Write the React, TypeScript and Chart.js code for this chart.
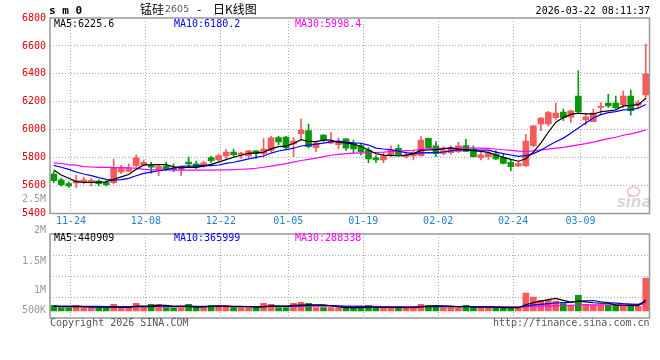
import React, { useEffect, useRef } from 'react';
import { Chart, registerables } from 'chart.js';

Chart.register(...registerables);

// ---------------- data ----------------
const dates = ['11-20','11-21','11-24','11-25','11-26','11-27','11-28','12-01','12-02','12-03','12-04','12-05',
  '12-08','12-09','12-10','12-11','12-12','12-15','12-16','12-17','12-18','12-19','12-22','12-23','12-24','12-25','12-26',
  '12-29','12-30','12-31','01-02','01-05','01-06','01-07','01-08','01-09','01-12','01-13','01-14','01-15','01-16',
  '01-19','01-20','01-21','01-22','01-23','01-26','01-27','01-28','01-29','01-30','02-02','02-03','02-04','02-05','02-06',
  '02-09','02-10','02-11','02-12','02-13','02-24','02-25','02-26','02-27','03-02','03-03','03-04','03-05','03-06',
  '03-09','03-10','03-11','03-12','03-13','03-16','03-17','03-18','03-19','03-20'];

const opens = [5683,5642,5614,5619,5628,5630,5633,5621,5621,5697,
  5704,5743,5750,5743,5721,5738,5726,5716,5769,5755,
  5740,5800,5783,5812,5840,5819,5812,5848,5829,5852,
  5943,5948,5898,5972,5993,5871,5962,5903,5893,5934,
  5903,5886,5855,5798,5783,5814,5867,5807,5812,5814,
  5938,5884,5831,5836,5843,5886,5860,5800,5807,5826,
  5802,5766,5740,5743,5886,6041,6041,6086,6127,6089,
  6241,6070,6058,6160,6191,6191,6179,6241,6175,6249];
const highs = [5700,5654,5626,5673,5661,5652,5642,5635,5790,5745,
  5755,5819,5783,5767,5747,5769,5755,5740,5805,5776,
  5776,5812,5826,5860,5862,5840,5852,5850,5936,5953,
  5953,5953,5943,6077,6041,5910,5965,5979,5941,5936,
  5926,5903,5872,5814,5836,5884,5891,5836,5855,5950,
  5940,5915,5879,5884,5910,5931,5884,5843,5843,5850,
  5831,5783,5771,5967,6030,6089,6132,6191,6148,6141,
  6421,6110,6146,6194,6253,6241,6277,6284,6210,6614];
const lows = [5621,5595,5585,5585,5611,5597,5597,5597,5611,5685,
  5697,5733,5740,5688,5671,5707,5700,5671,5735,5721,
  5731,5764,5774,5795,5800,5795,5800,5795,5805,5843,
  5891,5860,5807,5926,5867,5843,5914,5900,5862,5852,
  5836,5819,5764,5764,5764,5807,5815,5800,5783,5810,
  5868,5807,5819,5824,5836,5843,5803,5783,5788,5786,
  5755,5707,5735,5735,5879,5993,6027,6074,6065,6053,
  6125,6034,6055,6108,6160,6141,6158,6105,6158,6218];
const closes = [5635,5607,5597,5635,5642,5635,5614,5607,5728,5726,
  5721,5798,5767,5731,5736,5719,5716,5731,5755,5733,
  5762,5778,5814,5840,5821,5833,5848,5829,5862,5941,
  5912,5871,5919,5998,5879,5905,5929,5917,5912,5867,
  5862,5843,5790,5783,5812,5855,5819,5819,5838,5926,
  5872,5831,5850,5867,5884,5845,5807,5821,5831,5790,
  5759,5735,5757,5919,6027,6084,6122,6120,6086,6136,
  6129,6093,6120,6165,6170,6158,6241,6136,6194,6399];

const ma5 = [5712,5676,5652,5628,5623.2,5623.2,5624.6,5626.6,5645.2,5662,
  5679.2,5716,5748,5748.6,5750.6,5750.2,5733.8,5726.6,5731.4,5730.8,
  5739.4,5751.8,5768.4,5785.4,5803,5817.2,5831.2,5834.2,5838.6,5862.6,
  5878.4,5883,5901,5928.2,5915.8,5914.4,5926,5925.6,5908.4,5906,
  5897.4,5880.2,5854.8,5829,5818,5816.6,5811.8,5817.6,5828.6,5851.4,
  5854.8,5857.2,5863.4,5869.2,5860.8,5855.4,5850.6,5844.8,5837.6,5818.8,
  5801.6,5787.2,5774.4,5792,5839.4,5904.4,5981.8,6054.4,6087.8,6109.6,
  6118.6,6112.8,6112.8,6128.6,6135.4,6141.2,6170.8,6174,6179.8,6225.6];
const ma10 = [5745,5731,5716,5697,5683,5671,5657,5645,5638,5642.6,
  5651.2,5670.3,5687.3,5696.9,5706.3,5714.7,5724.9,5737.3,5740,5740.7,
  5744.8,5742.8,5747.5,5758.4,5766.9,5778.3,5791.5,5801.3,5812,5832.8,
  5847.8,5857.1,5867.6,5883.4,5889.2,5896.4,5904.5,5913.3,5918.3,5910.9,
  5905.9,5903.1,5890.2,5868.7,5862,5857,5846,5836.2,5828.8,5834.7,
  5835.7,5834.5,5840.5,5848.9,5856.1,5855.1,5853.9,5854.1,5853.4,5839.8,
  5828.5,5818.9,5809.6,5814.8,5829.1,5853,5884.5,5914.4,5939.9,5974.5,
  6011.5,6047.3,6083.6,6108.2,6122.5,6129.9,6141.8,6143.4,6154.2,6180.2];
const ma30 = [5762,5758,5750,5746,5736,5733,5731,5730,5729,5728,
  5727,5725,5716,5713,5712,5712,5711,5711,5711,5711,
  5711,5711,5712,5712,5714,5717,5719,5724,5731,5738.7,
  5747.9,5756.7,5767.5,5779.6,5787.5,5796.5,5807,5817.3,5823.4,5828.1,
  5832.8,5834.3,5835.1,5836.8,5839.4,5843.9,5847.3,5850.3,5853,5859.5,
  5863.1,5864.9,5866.1,5867,5869.1,5869.5,5868.1,5867.9,5866.8,5861.8,
  5856.7,5852.2,5846.8,5844.1,5849.1,5855,5861.5,5868.2,5874,5883,
  5891.9,5900.2,5911.2,5924,5935.9,5946,5960.1,5970.6,5983.2,5998.4];

// volume values in thousands (K)
const volumesK = [228,132,130,228,135,128,132,130,268,135,
  132,308,135,268,268,132,130,135,268,132,
  135,228,228,228,132,135,130,132,308,268,
  132,135,308,348,308,132,135,132,130,132,
  135,130,228,132,135,130,132,135,188,268,
  228,228,132,135,130,228,132,135,130,132,
  135,132,130,720,560,428,428,400,292,228,
  628,268,228,228,228,228,188,228,188,1320];
const volMa5K = [185,180,170,175,171,151,151,151,159,159,
  159,195,196,196,222,222,187,187,187,159,
  160,180,198,190,190,190,171,151,167,195,
  194,195,230,238,246,246,246,211,167,132,
  133,132,151,151,152,151,151,133,144,171,
  190,209,209,198,171,171,151,152,151,151,
  133,133,132,250,335,394,454,507,422,355,
  395,363,329,316,316,236,220,220,212,440.909];
const volMa10K = [200,198,195,192,190,186,182,178,172,165,
  155,173,174,178,191,191,191,192,192,191,
  191,184,193,189,175,175,176,175,179,193,
  192,183,191,203,221,220,221,221,203,189,
  190,189,181,159,142,142,142,142,148,162,
  171,180,171,171,171,181,180,181,175,161,
  152,142,142,201,243,264,294,320,336,345,
  395,409,418,369,336,316,292,275,264,365.999];
const volMa30K = [178,177,176,178,177,176,175,175,177,176,
  176,178,177,178,180,179,178,178,180,179,
  179,180,181,182,181,181,180,180,182,182.6,
  179.4,179.5,185.4,189.4,195.2,195.3,195.4,195.5,190.9,190.8,
  190.9,185,188.1,183.5,179.1,179,179.1,179.1,176.4,181,
  184.1,184.1,180.9,177.8,177.7,180.8,180.9,181,175,170.5,
  170.6,170.5,164.6,177,185.4,195.2,205,213.9,219.3,222.5,
  239,243.6,243.6,246.8,249.9,253.1,255,258.1,258.1,288.338];

const xTickLabels = ['11-24','12-08','12-22','01-05','01-19','02-02','02-24','03-09'];
const priceTicks = [5400,5500,5600,5800,6000,6200,6400,6600,6800];
const overlayTickValue = 5500;
const overlayTickLabel = '2.5M';
const volAxisLabels = ['2M','1.5M','1M','500K'];

const symbolCode = 's m 0';
const titleName = '锰硅';
const titleCode = '2605';
const titleSuffix = '日K线图';
const timestamp = '2026-03-22 08:11:37';
const copyrightText = 'Copyright 2026 SINA.COM';
const urlText = 'http://finance.sina.com.cn';

// ---------------- styles ----------------
const MONO = '"DejaVu Sans Mono", "Liberation Mono", monospace';
const CJK = '"Noto Sans CJK SC", "Noto Sans", sans-serif';
const RED = '#f65a5a';
const GREEN = '#0a990a';
const GRID = '#aaaaaa';
const FRAME = '#999999';
const MA_COLORS = ['#000000', '#0000ff', '#ff00ff'];
const K = 1000;

const candleColors = closes.map((c, i) => (c >= opens[i] ? RED : GREEN));
const xy = (arr: number[], mul = 1) => arr.map((v, i) => ({ x: i, y: v * mul }));

const xTickBuilder = (s: any) => {
  s.ticks = xTickLabels.map((l) => ({ value: dates.indexOf(l) + 0.3 }));
};

const lineDs = (label: string, data: any[], color: string) => ({
  type: 'line' as const,
  label,
  data,
  borderColor: color,
  backgroundColor: color,
  borderWidth: 1.2,
  pointRadius: 0,
  tension: 0,
  fill: false,
  order: 0,
});

const innerGrid = (ctx: any) => {
  const v = ctx.tick ? ctx.tick.value : null;
  if (v === null || v <= ctx.scale.min || v >= ctx.scale.max || v === overlayTickValue) return 'rgba(0,0,0,0)';
  return GRID;
};

const mainDecor = {
  id: 'mainDecor',
  beforeDatasetsDraw(chart: any) {
    const { ctx, chartArea: a } = chart;
    ctx.save();
    // faint sina watermark
    ctx.strokeStyle = 'rgba(235,160,160,0.55)';
    ctx.lineWidth = 2;
    ctx.beginPath();
    ctx.ellipse(a.right - 16, a.bottom - 22, 6, 4.5, 0, 0, Math.PI * 2);
    ctx.stroke();
    ctx.fillStyle = 'rgba(200,200,200,0.7)';
    ctx.font = `italic bold 15px "DejaVu Sans", sans-serif`;
    ctx.textAlign = 'right';
    ctx.textBaseline = 'alphabetic';
    ctx.fillText('sina', a.right + 2, a.bottom - 7);
    ctx.restore();
  },
  afterDraw(chart: any) {
    const { ctx, chartArea: a } = chart;
    ctx.save();
    ctx.strokeStyle = FRAME;
    ctx.lineWidth = 1.5;
    ctx.strokeRect(a.left, a.top, a.right - a.left, a.bottom - a.top);

    ctx.textBaseline = 'middle';
    ctx.textAlign = 'left';
    ctx.fillStyle = '#000';
    ctx.font = `bold 11px ${MONO}`;
    ctx.fillText(symbolCode, 49, 11.5);

    ctx.font = `12px ${CJK}`;
    ctx.fillText(titleName, 140, 9.5);
    ctx.fillStyle = '#555';
    ctx.font = `9.5px "DejaVu Sans", sans-serif`;
    ctx.fillText(titleCode, 165, 10);
    ctx.fillStyle = '#000';
    ctx.font = `12px ${CJK}`;
    ctx.fillText('-', 197, 9.5);
    ctx.fillText(titleSuffix, 213, 9.5);

    ctx.textAlign = 'right';
    ctx.font = `10px ${MONO}`;
    ctx.fillText(timestamp, 650, 11);

    ctx.textAlign = 'left';
    const legends = [
      `MA5:${ma5[ma5.length - 1].toFixed(1)}`,
      `MA10:${ma10[ma10.length - 1].toFixed(1)}`,
      `MA30:${ma30[ma30.length - 1].toFixed(1)}`,
    ];
    const lx = [a.left + 4, a.left + 124, a.left + 245];
    legends.forEach((t, i) => {
      ctx.fillStyle = MA_COLORS[i];
      ctx.fillText(t, lx[i], a.top + 6);
    });
    ctx.restore();
  },
};

const volDecor = {
  id: 'volDecor',
  afterDraw(chart: any) {
    const { ctx, chartArea: a } = chart;
    ctx.save();
    ctx.strokeStyle = FRAME;
    ctx.lineWidth = 1.5;
    ctx.strokeRect(a.left, a.top, a.right - a.left, a.bottom - a.top);

    ctx.font = `10px ${MONO}`;
    ctx.textBaseline = 'middle';
    ctx.textAlign = 'right';
    ctx.fillStyle = '#999';
    const ly = [a.top - 3.5, a.top + 27, a.top + 56, a.top + 76.5];
    volAxisLabels.forEach((t, i) => ctx.fillText(t, a.left - 4, ly[i]));

    ctx.textAlign = 'left';
    const last = volumesK.length - 1;
    const legends = [
      `MA5:${Math.round(volMa5K[last] * K)}`,
      `MA10:${Math.round(volMa10K[last] * K)}`,
      `MA30:${Math.round(volMa30K[last] * K)}`,
    ];
    const lx = [a.left + 4, a.left + 124, a.left + 245];
    legends.forEach((t, i) => {
      ctx.fillStyle = MA_COLORS[i];
      ctx.fillText(t, lx[i], a.top + 4.5);
    });

    ctx.fillStyle = '#555';
    ctx.fillText(copyrightText, a.left, a.bottom + 5);
    ctx.textAlign = 'right';
    ctx.fillText(urlText, a.right, a.bottom + 5.5);
    ctx.restore();
  },
};

function mainConfig(): any {
  return {
    type: 'bar',
    data: {
      datasets: [
        lineDs('MA5', xy(ma5), MA_COLORS[0]),
        lineDs('MA10', xy(ma10), MA_COLORS[1]),
        lineDs('MA30', xy(ma30), MA_COLORS[2]),
        {
          type: 'bar',
          label: 'body',
          data: opens.map((o, i) => ({ x: i, y: [o, closes[i]] })),
          backgroundColor: candleColors,
          borderWidth: 0,
          barThickness: 6,
          minBarLength: 1,
          grouped: false,
          order: 1,
        },
        {
          type: 'bar',
          label: 'wick',
          data: lows.map((l, i) => ({ x: i, y: [l, highs[i]] })),
          backgroundColor: candleColors,
          borderWidth: 0,
          barThickness: 1,
          grouped: false,
          order: 2,
        },
      ],
    },
    options: {
      responsive: false,
      animation: false,
      events: [],
      layout: { padding: { top: 18, right: 10.5, bottom: 132.5, left: 0 } },
      plugins: { legend: { display: false }, tooltip: { enabled: false } },
      scales: {
        x: {
          type: 'linear',
          min: -0.5,
          max: dates.length - 0.5,
          offset: false,
          afterBuildTicks: xTickBuilder,
          afterFit: (s: any) => { s.height = 14; },
          ticks: {
            callback: (_v: any, idx: number) => xTickLabels[idx],
            color: '#1e82d2',
            font: { family: MONO, size: 10 },
            padding: 1.5,
            autoSkip: false,
            maxRotation: 0,
            minRotation: 0,
          },
          grid: { color: GRID, lineWidth: 1, drawTicks: false, offset: false },
          border: { display: false, dash: [1, 2] },
        },
        y: {
          type: 'linear',
          min: priceTicks[0],
          max: priceTicks[priceTicks.length - 1],
          afterBuildTicks: (s: any) => { s.ticks = priceTicks.map((v) => ({ value: v })); },
          afterFit: (s: any) => { s.width = 50; },
          ticks: {
            callback: (v: number) => (v === overlayTickValue ? overlayTickLabel : String(v)),
            color: (ctx: any) => (ctx.tick && ctx.tick.value === overlayTickValue ? '#999' : '#e00000'),
            font: { family: MONO, size: 10 },
            padding: 4,
          },
          grid: { color: innerGrid, lineWidth: 1, drawTicks: false },
          border: { display: false, dash: [1, 2] },
        },
      },
    },
    plugins: [mainDecor],
  };
}

function volConfig(): any {
  const VOL_MIN = -280 * K;
  const VOL_MAX = 3080 * K;
  return {
    type: 'bar',
    data: {
      datasets: [
        lineDs('VMA5', xy(volMa5K, K), MA_COLORS[0]),
        lineDs('VMA10', xy(volMa10K, K), MA_COLORS[1]),
        lineDs('VMA30', xy(volMa30K, K), MA_COLORS[2]),
        {
          type: 'bar',
          label: 'volume',
          data: xy(volumesK, K),
          backgroundColor: candleColors,
          borderWidth: 0,
          barThickness: 6,
          grouped: false,
          order: 1,
        },
      ],
    },
    options: {
      responsive: false,
      animation: false,
      events: [],
      layout: { padding: { top: 234, right: 10.5, bottom: 42, left: 0 } },
      plugins: { legend: { display: false }, tooltip: { enabled: false } },
      scales: {
        x: {
          type: 'linear',
          min: -0.5,
          max: dates.length - 0.5,
          offset: false,
          afterBuildTicks: xTickBuilder,
          afterFit: (s: any) => { s.height = 0; },
          ticks: { display: false },
          grid: { color: GRID, lineWidth: 1, drawTicks: false, offset: false },
          border: { display: false, dash: [1, 2] },
        },
        y: {
          type: 'linear',
          min: VOL_MIN,
          max: VOL_MAX,
          afterBuildTicks: (s: any) => {
            const step = (s.max - s.min) / 4;
            s.ticks = [0, 1, 2, 3, 4].map((k) => ({ value: s.min + k * step }));
          },
          afterFit: (s: any) => { s.width = 50; },
          ticks: { display: false },
          grid: { color: innerGrid, lineWidth: 1, drawTicks: false },
          border: { display: false, dash: [1, 2] },
        },
      },
    },
    plugins: [volDecor],
  };
}

export default function App() {
  const mainRef = useRef<HTMLCanvasElement>(null);
  const volRef = useRef<HTMLCanvasElement>(null);
  useEffect(() => {
    const main = new Chart(mainRef.current as HTMLCanvasElement, mainConfig());
    const vol = new Chart(volRef.current as HTMLCanvasElement, volConfig());
    return () => {
      main.destroy();
      vol.destroy();
    };
  }, []);
  return (
    <div style={{ position: 'absolute', left: 0, top: 0, width: 660, height: 360, background: '#fff' }}>
      <canvas ref={mainRef} width={660} height={360} style={{ position: 'absolute', left: 0, top: 0 }} />
      <canvas ref={volRef} width={660} height={360} style={{ position: 'absolute', left: 0, top: 0 }} />
    </div>
  );
}
